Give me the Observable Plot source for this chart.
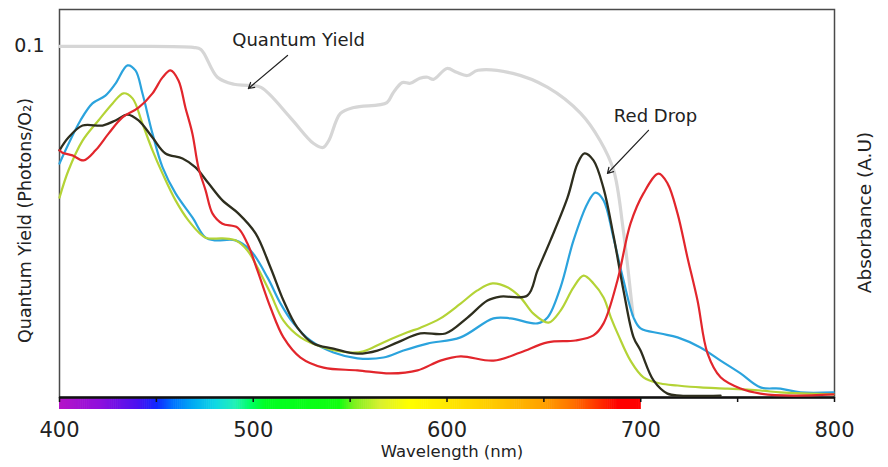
<!DOCTYPE html>
<html>
<head>
<meta charset="utf-8">
<script src="https://cdn.jsdelivr.net/npm/d3@7"></script>
<script src="https://cdn.jsdelivr.net/npm/@observablehq/plot@0.6"></script>
<style>
  html, body { margin: 0; padding: 0; background: #fff; }
  #chart { width: 888px; height: 467px; }
</style>
</head>
<body>
<div id="chart"></div>
<script>
// Quantum yield (photons / O2) vs wavelength (nm)
const quantumYield = [
  [400,0.1000],[431,0.1000],[469,0.0997],[473,0.0991],[481.5,0.0912],[490,0.0892],[497,0.0889],
  [504,0.0883],[519,0.0798],[531,0.0724],[536,0.0712],[539,0.0732],[545,0.0809],[552,0.0826],
  [569,0.0840],[572,0.0866],[577,0.0897],[581,0.0895],[586,0.0909],[590,0.0912],[593,0.0906],
  [600,0.0937],[605,0.0926],[610.5,0.0917],[616,0.0932],[634,0.0923],[652,0.0883],[669,0.0809],
  [679,0.0732],[686,0.0647],[691,0.0476],[695,0.0285],[696,0.0234]
];

// Absorbance spectra (A.U., 1 = top of frame)
const blueAbs = [
  [400,0.603],[403.1,0.637],[410.8,0.714],[417,0.758],[423.7,0.778],[428.9,0.809],[435.1,0.856],
  [439.2,0.843],[442.8,0.784],[448,0.680],[453.2,0.593],[459.9,0.526],[468.6,0.464],[475.4,0.412],
  [480.5,0.405],[490.8,0.405],[498.6,0.379],[507.4,0.309],[514.1,0.242],[520.8,0.191],[529.5,0.147],
  [541.4,0.116],[553.8,0.101],[567.2,0.103],[577.5,0.121],[589.9,0.139],[607,0.155],[624,0.204],
  [632.8,0.204],[646.7,0.191],[651.9,0.206],[658.6,0.284],[665.3,0.405],[672.5,0.500],[676.6,0.528],
  [680.8,0.508],[685.9,0.412],[691.1,0.302],[696.3,0.206],[699.9,0.178],[710.2,0.165],[719,0.155],
  [730.8,0.129],[741.2,0.095],[751.5,0.062],[761.8,0.026],[772.1,0.023],[782.5,0.013],[799.5,0.013]
];
const redAbs = [
  [400,0.637],[401.5,0.631],[406.7,0.624],[412.4,0.611],[418.6,0.637],[425.3,0.680],[432.5,0.722],
  [440.8,0.747],[448,0.784],[453.2,0.825],[457.3,0.843],[461.4,0.817],[465,0.747],[468.6,0.680],
  [471.7,0.593],[475.4,0.534],[479,0.474],[484.1,0.448],[491.9,0.438],[497,0.397],[502.2,0.327],
  [508.9,0.232],[515.6,0.155],[524.4,0.103],[536.3,0.077],[553.8,0.070],[570.8,0.062],[584.8,0.070],
  [596.6,0.095],[607,0.106],[624,0.095],[637.9,0.116],[651.9,0.142],[666.3,0.147],[675.6,0.160],
  [680.8,0.191],[688,0.302],[694.7,0.448],[701.4,0.526],[709.2,0.577],[713.8,0.552],[719,0.474],
  [724.1,0.361],[729.3,0.250],[734.5,0.113],[741.2,0.052],[751.5,0.023],[761.8,0.010],[778.8,0.005],
  [799.5,0.008]
];
const limeAbs = [
  [400,0.515],[404.6,0.585],[411.9,0.662],[420.1,0.714],[427.4,0.758],[433,0.784],[437.7,0.771],
  [442.8,0.706],[448,0.637],[453.2,0.577],[459.9,0.508],[466.6,0.456],[475.4,0.412],[484.1,0.410],
  [490.8,0.405],[497,0.379],[502.2,0.335],[508.9,0.268],[515.6,0.198],[524.4,0.155],[536.3,0.129],
  [550.2,0.116],[556.9,0.119],[567.2,0.142],[579.6,0.168],[586.3,0.180],[596.6,0.204],[607,0.242],
  [615.7,0.276],[623.5,0.294],[631.2,0.284],[637.9,0.258],[644.6,0.216],[652.4,0.193],[658.6,0.224],
  [665.3,0.284],[670.5,0.314],[675.6,0.294],[680.8,0.258],[684.6,0.206],[688.5,0.160],[694.7,0.095],
  [701.4,0.052],[710.2,0.036],[719,0.031],[730.8,0.026],[744.8,0.023],[761.8,0.018],[772.1,0.013],
  [786,0.010],[799.5,0.008]
];
const darkAbs = [
  [400,0.637],[404.6,0.670],[411.9,0.701],[422.2,0.701],[428.9,0.714],[435.1,0.729],[440.8,0.714],
  [448,0.670],[454.7,0.629],[463.5,0.616],[470.2,0.593],[476.9,0.552],[484.1,0.508],[492.4,0.474],
  [501.2,0.423],[508.9,0.335],[515.6,0.250],[522.8,0.180],[531.1,0.139],[541.4,0.126],[553.8,0.113],
  [564.1,0.121],[574.5,0.142],[586.3,0.165],[599.2,0.165],[610.6,0.206],[620.9,0.250],[627.6,0.260],
  [641.5,0.263],[646.7,0.327],[653.4,0.405],[662.2,0.515],[667.4,0.603],[671,0.629],[675.6,0.611],
  [680.8,0.539],[685.9,0.418],[691.1,0.276],[696.3,0.155],[699.9,0.121],[706.6,0.044],[713.8,0.010],
  [720.5,0.005],[741.2,0.005]
];

// Visible spectrum colour bar stops
const spectrumNm = [400,420,440,450,458,468,480,490,498,506,544,552,565,580,600,625,650,665,678,688,700];
const spectrumColor = ["#b414c8","#9010dc","#4a10f0","#1028ff","#0070ff","#00a8f4","#10d8e4","#20f0b8",
  "#00ff66","#00ff22","#10ff10","#80f020","#d8f030","#ffff00","#ffe800","#ffc800","#ffa000","#ff7000",
  "#ff3000","#ff0000","#ff0000"];

const xTickLabels = [400,500,600,700,800];
const xTicks = [400,450,500,550,600,650,700,750,800];
const yTicks = [0.1];

const annotations = [
  {nm: 523.4, v: 0.1017, text: "Quantum Yield"},
  {nm: 707.6, v: 0.0801, text: "Red Drop"}
];
const arrows = [
  {x1: 517.7, y1: 0.0974, x2: 497.5, y2: 0.0880},
  {x1: 704.0, y1: 0.0761, x2: 682.8, y2: 0.0638}
];

const yMax = 0.1105;
const absToY = a => a * yMax;
const specScale = d3.scaleLinear().domain(spectrumNm).range(spectrumColor).interpolate(d3.interpolateRgb);
const specSteps = d3.range(400, 700, 1);

const font = "DejaVu Sans, Verdana, sans-serif";

const chart = Plot.plot({
  width: 888,
  height: 467,
  marginLeft: 59,
  marginRight: 54,
  marginTop: 9,
  marginBottom: 70,
  style: {fontFamily: font, background: "#fff", overflow: "visible"},
  x: {domain: [400, 800]},
  y: {domain: [0, yMax]},
  marks: [
    // spectrum bar
    Plot.rect(specSteps, {x1: d => d, x2: d => d + 1.3, y1: 0, y2: 0, insetBottom: -12, fill: d => specScale(d)}),
    Plot.frame({stroke: "#4a4a4a", strokeWidth: 1.5}),
    Plot.ruleY([0], {stroke: "#111", strokeWidth: 2.5}),
    Plot.axisX({ticks: xTicks, tickSize: 5, stroke: "#111", strokeWidth: 1.5, tickFormat: null, text: null, label: null}),
    Plot.axisX({ticks: xTickLabels, tickSize: 0, tickPadding: 25, fontSize: 21, fill: "#222", label: null, tickFormat: d => String(d)}),
    Plot.axisY({ticks: yTicks, tickSize: 0, tickPadding: 15, fontSize: 19, fill: "#222", label: null, tickFormat: () => "0.1"}),
    // quantum yield line
    Plot.line(quantumYield, {x: d => d[0], y: d => d[1], stroke: "#d6d6d6", strokeWidth: 3.2, curve: "catmull-rom"}),
    // absorbance spectra
    Plot.line(blueAbs, {x: d => d[0], y: d => absToY(d[1]), stroke: "#2ba3dd", strokeWidth: 2.2, curve: "catmull-rom"}),
    Plot.line(limeAbs, {x: d => d[0], y: d => absToY(d[1]), stroke: "#b4d336", strokeWidth: 2.2, curve: "catmull-rom"}),
    Plot.line(darkAbs, {x: d => d[0], y: d => absToY(d[1]), stroke: "#2e2e1e", strokeWidth: 2.3, curve: "catmull-rom"}),
    Plot.line(redAbs, {x: d => d[0], y: d => absToY(d[1]), stroke: "#e2262c", strokeWidth: 2.2, curve: "catmull-rom"}),
    // annotations
    Plot.text(annotations, {x: "nm", y: "v", text: "text", fontSize: 18, fill: "#222", textAnchor: "middle"}),
    Plot.arrow(arrows, {x1: "x1", y1: "y1", x2: "x2", y2: "y2", stroke: "#222", strokeWidth: 1.2, headLength: 8}),
    // axis titles
    Plot.text(["Wavelength (nm)"], {frameAnchor: "bottom", textAnchor: "middle", dx: 5, dy: 59, fontSize: 16.5, fill: "#222", text: d => d}),
    Plot.text(["Quantum Yield (Photons/O\u2082)"], {frameAnchor: "left", textAnchor: "middle", dx: -34, dy: 17, rotate: -90, fontSize: 17.5, fill: "#222", text: d => d}),
    Plot.text(["Absorbance (A.U)"], {frameAnchor: "right", textAnchor: "middle", dx: 31, dy: 9, rotate: -90, fontSize: 18.5, fill: "#222", text: d => d})
  ]
});
document.getElementById("chart").appendChild(chart);
</script>
</body>
</html>
